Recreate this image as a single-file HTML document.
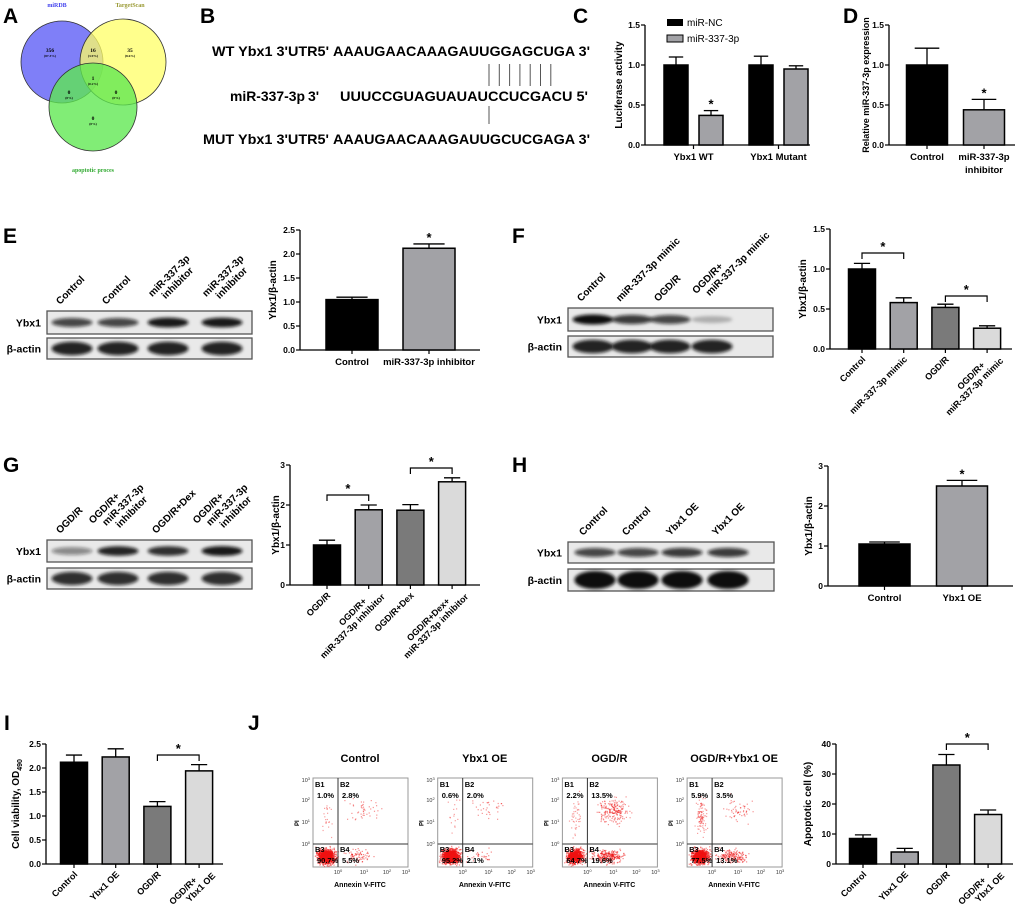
<!DOCTYPE html>
<html><head><meta charset="utf-8">
<style>
html,body{margin:0;padding:0;background:#fff;}
svg{display:block;font-family:"Liberation Sans",Arial,sans-serif;}
.t{font-weight:bold;fill:#000;}
</style></head>
<body>
<svg id="fig" width="1020" height="907" viewBox="0 0 1020 907" xmlns="http://www.w3.org/2000/svg">
<defs>
<filter id="blur1" x="-30%" y="-100%" width="160%" height="300%"><feGaussianBlur stdDeviation="1.6"/></filter>
</defs>
<g class="t" font-size="21">
<text x="3" y="23">A</text>
<text x="200" y="23">B</text>
<text x="573" y="23">C</text>
<text x="843" y="23">D</text>
<text x="3" y="243">E</text>
<text x="512" y="243">F</text>
<text x="3" y="472">G</text>
<text x="512" y="472">H</text>
<text x="4" y="730">I</text>
<text x="248" y="730">J</text>
</g>
<g>
<circle cx="62" cy="62" r="41" fill="#7f7ff8" stroke="#333" stroke-width="0.8"/>
<circle cx="123" cy="62" r="43" fill="#ffff66" fill-opacity="0.75" stroke="#333" stroke-width="0.8"/>
<circle cx="93" cy="107" r="44" fill="#5ee850" fill-opacity="0.78" stroke="#333" stroke-width="0.8"/>
<g font-family="Liberation Serif,serif" font-weight="bold" text-anchor="middle">
<text x="57" y="7" font-size="6" fill="#4444ee">miRDB</text>
<text x="130" y="7" font-size="6" fill="#999933">TargetScan</text>
<text x="93" y="172" font-size="6" fill="#33aa33">apoptotic proces</text>
<text x="50" y="52" font-size="5.5">356</text>
<text x="50" y="57" font-size="3.5">(87.3%)</text>
<text x="93" y="52" font-size="5.5">16</text>
<text x="93" y="57" font-size="3.5">(3.9%)</text>
<text x="130" y="52" font-size="5.5">35</text>
<text x="130" y="57" font-size="3.5">(8.6%)</text>
<text x="93" y="80" font-size="5.5">1</text>
<text x="93" y="85" font-size="3.5">(0.2%)</text>
<text x="69" y="94" font-size="5.5">0</text>
<text x="69" y="99" font-size="3.5">(0%)</text>
<text x="116" y="94" font-size="5.5">0</text>
<text x="116" y="99" font-size="3.5">(0%)</text>
<text x="93" y="120" font-size="5.5">0</text>
<text x="93" y="125" font-size="3.5">(0%)</text>
</g>
</g>
<g class="t" font-size="14">
<text x="212" y="56" textLength="117" lengthAdjust="spacingAndGlyphs">WT Ybx1 3'UTR5'</text>
<text x="333" y="56" textLength="257" lengthAdjust="spacingAndGlyphs">AAAUGAACAAAGAUUGGAGCUGA 3'</text>
<text x="230" y="101" textLength="75" lengthAdjust="spacingAndGlyphs">miR-337-3p</text>
<text x="308" y="101">3'</text>
<text x="340" y="101" textLength="248" lengthAdjust="spacingAndGlyphs">UUUCCGUAGUAUAUCCUCGACU 5'</text>
<text x="203" y="144" textLength="126" lengthAdjust="spacingAndGlyphs">MUT Ybx1 3'UTR5'</text>
<text x="333" y="144" textLength="257" lengthAdjust="spacingAndGlyphs">AAAUGAACAAAGAUUGCUCGAGA 3'</text>
</g>
<g id="pairs" stroke="#555" stroke-width="1"></g>
<g id="root"></g>
</svg>
<script>
const cCats=['Ybx1 WT','Ybx1 Mutant'];
const cNC=[1.0,1.0];
const cNCerr=[0.10,0.11];
const c337=[0.37,0.95];
const c337err=[0.06,0.04];
const cTicks=[0,0.5,1.0,1.5];
const dCats=['Control','miR-337-3p\ninhibitor'];
const dVals=[1.0,0.44];
const dErr=[0.21,0.13];
const eCats=['Control','miR-337-3p inhibitor'];
const eVals=[1.05,2.12];
const eErr=[0.05,0.09];
const eTicks=[0,0.5,1.0,1.5,2.0,2.5];
const fCats=['Control','miR-337-3p mimic','OGD/R','OGD/R+\nmiR-337-3p mimic'];
const fVals=[1.0,0.58,0.52,0.26];
const fErr=[0.07,0.06,0.04,0.03];
const gCats=['OGD/R','OGD/R+\nmiR-337-3p inhibitor','OGD/R+Dex','OGD/R+Dex+\nmiR-337-3p inhibitor'];
const gVals=[1.0,1.88,1.87,2.58];
const gErr=[0.12,0.12,0.14,0.10];
const intTicks=[0,1,2,3];
const hCats=['Control','Ybx1 OE'];
const hVals=[1.05,2.5];
const hErr=[0.05,0.14];
const iCats=['Control','Ybx1 OE','OGD/R','OGD/R+\nYbx1 OE'];
const iVals=[2.12,2.23,1.2,1.94];
const iErr=[0.15,0.17,0.10,0.13];
const jCats=['Control','Ybx1 OE','OGD/R','OGD/R+\nYbx1 OE'];
const jVals=[8.5,4.0,33.0,16.5];
const jErr=[1.2,1.2,3.5,1.5];
const jTicks=[0,10,20,30,40];
const flowTitles=['Control','Ybx1 OE','OGD/R','OGD/R+Ybx1 OE'];
const flowB1=[1.0,0.6,2.2,5.9];
const flowB2=[2.8,2.0,13.5,3.5];
const flowB3=[90.7,95.2,64.7,77.5];
const flowB4=[5.5,2.1,19.6,13.1];

const NS='http://www.w3.org/2000/svg';
const root=document.getElementById('root');
function mk(tag,attrs,parent,txt){const e=document.createElementNS(NS,tag);for(const k in attrs)e.setAttribute(k,attrs[k]);if(txt!==undefined)e.textContent=txt;(parent||root).appendChild(e);return e;}
const COLS=['#000','#a2a2a6','#7a7a7a','#dadada'];

const pairs=document.getElementById('pairs');
for(let i=0;i<7;i++){const l=mk('line',{x1:489+i*10.3,x2:489+i*10.3,y1:64,y2:86},pairs);

}
{const l=mk('line',{x1:489,x2:489,y1:106,y2:124},pairs);

}

function fmt(v,dec){return dec?v.toFixed(1):String(v);}
function axes(g,o){
  const top=o.y0-o.ticks[o.ticks.length-1]*o.unit;
  mk('line',{x1:o.ax,x2:o.ax,y1:o.y0,y2:top,stroke:'#000','stroke-width':1.3},g);
  mk('line',{x1:o.ax,x2:o.xEnd,y1:o.y0,y2:o.y0,stroke:'#000','stroke-width':1.3},g);
  o.ticks.forEach(t=>{const y=o.y0-t*o.unit;
    mk('line',{x1:o.ax-4,x2:o.ax,y1:y,y2:y,stroke:'#000','stroke-width':1.2},g);
    const tx=mk('text',{x:o.ax-5,y:y+3,'font-size':8.5,'text-anchor':'end',class:'t'},g,fmt(t,o.dec));
    
    
  });
  const yt=mk('text',{x:0,y:0,'font-size':o.ytfs||10,'text-anchor':'middle',class:'t',transform:`translate(${o.ytx},${(o.y0+top)/2}) rotate(-90)`},g,o.ytitle);
  
  
  if(o.sub){mk('tspan',{'font-size':7,dy:3},yt,o.sub);}
}
function bar(g,cx,w,v,e,col,o){
  const y=o.y0-v*o.unit, ye=o.y0-(v+e)*o.unit;
  mk('line',{x1:cx,x2:cx,y1:y,y2:ye,stroke:'#000','stroke-width':1.3},g);
  mk('line',{x1:cx-w*0.3,x2:cx+w*0.3,y1:ye,y2:ye,stroke:'#000','stroke-width':1.3},g);
  const r=mk('rect',{x:cx-w/2,y:y,width:w,height:v*o.unit,fill:col,stroke:'#000','stroke-width':1.5},g);
  
  
  return ye;
}
function xlabel(g,cx,o,cat){
  const lines=cat.split('\n');
  if(o.rot){
    const t=mk('text',{x:0,y:0,'font-size':9,'text-anchor':'end',class:'t',transform:`translate(${cx+4},${o.y0+11}) rotate(-45)`},g);
    
    
    lines.forEach((ln,k)=>{mk('tspan',{x:0,dy:k?10:0},t,ln);});
    if(lines.length>1){t.firstChild.setAttribute('x',-8);t.lastChild.setAttribute('x',8);}
  }else{
    const t=mk('text',{x:cx,y:o.y0+15,'font-size':9.5,'text-anchor':'middle',class:'t'},g);
    
    
    lines.forEach((ln,k)=>{mk('tspan',{x:cx,dy:k?13:0},t,ln);});
  }
}
function star(g,x,y){const s=mk('text',{x:x,y:y,'font-size':13,'text-anchor':'middle',class:'t'},g,'*');
  
  }
function bracket(g,x1,x2,y){
  const p=mk('path',{d:`M${x1},${y+6}V${y}H${x2}V${y+6}`,fill:'none',stroke:'#000','stroke-width':1.2},g);
  
  
  star(g,(x1+x2)/2,y-2);
}
function chart(name,o,cats,vals,errs,colors){
  const g=mk('g',{});
  
  
  axes(g,o);
  const tops=[];
  cats.forEach((c,i)=>{const cx=o.ax+o.pad+i*o.step;
    mk('line',{x1:cx,x2:cx,y1:o.y0,y2:o.y0+4,stroke:'#000','stroke-width':1.2},g);
    tops.push(bar(g,cx,o.w,vals[i],errs[i],colors[i],o));
    xlabel(g,cx,o,c);});
  (o.stars||[]).forEach(i=>star(g,o.ax+o.pad+i*o.step,tops[i]-2));
  (o.brackets||[]).forEach(b=>bracket(g,o.ax+o.pad+b[0]*o.step,o.ax+o.pad+b[1]*o.step,b[2]));
  return g;
}

{const o={ax:645,y0:145,unit:80,xEnd:810,ticks:cTicks,dec:true,ytitle:'Luciferase activity',ytx:622};
 const g=mk('g',{});
 
 
 axes(g,o);
 cCats.forEach((c,i)=>{const gc=693.5+i*85;
   mk('line',{x1:gc,x2:gc,y1:o.y0,y2:o.y0+4,stroke:'#000','stroke-width':1.2},g);
   bar(g,gc-17.5,24,cNC[i],cNCerr[i],'#000',o);
   const t2=bar(g,gc+17.5,24,c337[i],c337err[i],'#a2a2a6',o);
   if(c337[i]<0.7*cNC[i])star(g,gc+17.5,t2-2);
   xlabel(g,gc,o,c);});
 const l1=mk('rect',{x:667,y:19,width:16,height:7,fill:'#000'},g);
 
 
 const t1=mk('text',{x:687,y:26,'font-size':10},g,'miR-NC');
 
 
 const l2=mk('rect',{x:667,y:35,width:16,height:7,fill:'#a2a2a6',stroke:'#000','stroke-width':1},g);
 
 
 const t3=mk('text',{x:687,y:42,'font-size':10},g,'miR-337-3p');
 
 
}
chart('chart-d-mir-expression',{ax:889,y0:145,unit:80,xEnd:1015,ticks:cTicks,dec:true,ytitle:'Relative miR-337-3p expression',ytfs:9,ytx:869,pad:38,step:57,w:41,stars:[1]},dCats,dVals,dErr,['#000','#a2a2a6']);
chart('chart-e-ybx1',{ax:300,y0:350,unit:48,xEnd:480,ticks:eTicks,dec:true,ytitle:'Ybx1/β-actin',ytx:276,pad:52,step:77,w:52,stars:[1]},eCats,eVals,eErr,['#000','#a2a2a6']);
chart('chart-f-ybx1',{ax:830,y0:349,unit:80,xEnd:1012,ticks:cTicks,dec:true,ytitle:'Ybx1/β-actin',ytx:806,pad:32,step:41.7,w:27,rot:true,brackets:[[0,1,253],[2,3,296]]},fCats,fVals,fErr,COLS);
chart('chart-g-ybx1',{ax:290,y0:585,unit:40,xEnd:480,ticks:intTicks,ytitle:'Ybx1/β-actin',ytx:279,pad:37,step:41.7,w:27,rot:true,brackets:[[0,1,495],[2,3,468]]},gCats,gVals,gErr,COLS);
chart('chart-h-ybx1',{ax:828,y0:586,unit:40,xEnd:1013,ticks:intTicks,ytitle:'Ybx1/β-actin',ytx:812,pad:56.5,step:77.5,w:51,stars:[1]},hCats,hVals,hErr,['#000','#a2a2a6']);
chart('chart-i-viability',{ax:46,y0:864,unit:48,xEnd:223,ticks:eTicks,dec:true,ytitle:'Cell viability, OD',sub:'490',ytx:19,pad:28,step:41.7,w:27,rot:true,brackets:[[2,3,755]]},iCats,iVals,iErr,COLS);
chart('chart-j-apoptosis',{ax:836,y0:864,unit:3,xEnd:1013,ticks:jTicks,ytitle:'Apoptotic cell (%)',ytx:811,pad:27,step:41.7,w:27,rot:true,brackets:[[2,3,744]]},jCats,jVals,jErr,COLS);

function blot(name,x,w,y1,h1,y2,h2,lanes,ybx,act,labels,actH){
  const g=mk('g',{});
  
  
  [[y1,h1,ybx,'Ybx1',5],[y2,h2,act,'β-actin',actH||7]].forEach((r,ri)=>{
    const fr=mk('rect',{x:x,y:r[0],width:w,height:r[1],fill:'#e9e9e9',stroke:'#555','stroke-width':1.3},g);
    
    
    lanes.forEach((lx,i)=>{const b=mk('ellipse',{cx:lx,cy:r[0]+r[1]/2,rx:w/10,ry:r[4]*(0.6+0.4*r[2][i]),fill:'#111','fill-opacity':r[2][i],filter:'url(#blur1)'},g);
      
      });
    const lb=mk('text',{x:x-6,y:r[0]+r[1]/2+4,'font-size':10.5,'text-anchor':'end',class:'t'},g,r[3]);
    
    
  });
  labels.forEach((l,i)=>{const lines=l.split('\n');
    const t=mk('text',{x:0,y:0,'font-size':10,class:'t',transform:`translate(${lanes[i]-12+(lines.length-1)*4},${y1-6}) rotate(-45)`},g);
    
    
    lines.forEach(ln=>{mk('tspan',{},t,ln);});
    const ts=t.querySelectorAll('tspan');const n=ts.length;
    ts.forEach((s,k)=>{s.setAttribute('x',(k-(n-1))*8+(n>1?8:0));s.setAttribute('y',(k-(n-1))*11);});
  });
}
blot('blot-e',47,205,311,23,338,21,[72,118,168,222],[0.75,0.75,0.95,0.95],[0.9,0.9,0.9,0.9],['Control','Control','miR-337-3p\ninhibitor','miR-337-3p\ninhibitor']);
blot('blot-f',568,205,308,23,336,21,[593,632,670,712],[1,0.8,0.75,0.25],[0.9,0.9,0.9,0.9],['Control','miR-337-3p mimic','OGD/R','OGD/R+\nmiR-337-3p mimic']);
blot('blot-g',47,205,540,22,568,21,[72,118,168,222],[0.45,0.9,0.85,0.95],[0.85,0.85,0.85,0.85],['OGD/R','OGD/R+\nmiR-337-3p\ninhibitor','OGD/R+Dex','OGD/R+\nmiR-337-3p\ninhibitor']);
blot('blot-h',568,206,542,21,569,22,[595,638,682,728],[0.75,0.75,0.8,0.8],[1,1,1,1],['Control','Control','Ybx1 OE','Ybx1 OE'],9);

let seed=7;function rnd(){seed=(seed*16807)%2147483647;return (seed-1)/2147483646;}
function gauss(){return (rnd()+rnd()+rnd()-1.5)/1.5;}
flowTitles.forEach((title,p)=>{
  const bx=313+p*124.7, by=778, W=95, H=89, qx=bx+25, qy=by+66;
  const g=mk('g',{});
  
  
  const tt=mk('text',{x:bx+47,y:762,'font-size':11,'text-anchor':'middle',class:'t'},g,title);
  
  
  mk('rect',{x:bx,y:by,width:W,height:H,fill:'#fff',stroke:'#999','stroke-width':1},g);
  const dots=mk('g',{fill:'#ee1111'},g);
  
  
  const add=(n,cx,cy,sx,sy,op)=>{for(let k=0;k<n;k++){const x=cx+gauss()*sx,y=cy+gauss()*sy;
    if(x>bx+1&&x<bx+W-1&&y>by+1&&y<by+H-1)mk('rect',{x:x.toFixed(1),y:y.toFixed(1),width:1.2,height:1.2,'fill-opacity':op},dots);}};
  add(Math.round(flowB3[p]*10),bx+13,by+78,13,11,0.5);
  add(Math.round(flowB3[p]*4),bx+12,by+78,8,7,0.9);
  add(Math.round(flowB4[p]*14),qx+20,by+78,22,10,0.5);
  add(Math.round(flowB2[p]*16),qx+26,by+32,22,18,0.45);
  add(Math.round(flowB1[p]*16)+6,bx+14,by+38,8,28,0.4);
  mk('line',{x1:qx,x2:qx,y1:by,y2:by+H,stroke:'#333','stroke-width':1},g);
  mk('line',{x1:bx,x2:bx+W,y1:qy,y2:qy,stroke:'#333','stroke-width':1},g);
  const q=[['B1',bx+2,by+9],['B2',qx+2,by+9],['B3',bx+2,qy+8],['B4',qx+2,qy+8]];
  const pv=[flowB1[p],flowB2[p],flowB3[p],flowB4[p]];
  q.forEach((a,k)=>{
    const t=mk('text',{x:a[1],y:a[2],'font-size':7.5,class:'t',fill:'#222'},g,a[0]);
    
    
    const v=mk('text',{x:a[1]+2,y:a[2]+11,'font-size':7.5,class:'t',fill:'#222'},g,pv[k].toFixed(1)+'%');
    
    
  });
  [[3,by+2],[2,by+22],[1,by+44],[0,qy]].forEach(a=>{
    const t=mk('text',{x:bx-3,y:a[1]+2,'font-size':5.5,'text-anchor':'end',fill:'#333'},g,'10');
    
    
    mk('tspan',{'font-size':4,dy:-2},t,String(a[0]));});
  [[0,qx],[1,bx+51],[2,bx+74],[3,bx+93]].forEach(a=>{
    const t=mk('text',{x:a[1],y:by+H+7,'font-size':5.5,'text-anchor':'middle',fill:'#333'},g,'10');
    
    
    mk('tspan',{'font-size':4,dy:-2},t,String(a[0]));});
  const pi=mk('text',{x:0,y:0,'font-size':6,class:'t',transform:`translate(${bx-14},${by+48}) rotate(-90)`},g,'PI');
  
  
  const ax=mk('text',{x:bx+47,y:887,'font-size':7,'text-anchor':'middle',class:'t'},g,'Annexin V-FITC');
  
  
});
</script>
</body></html>
